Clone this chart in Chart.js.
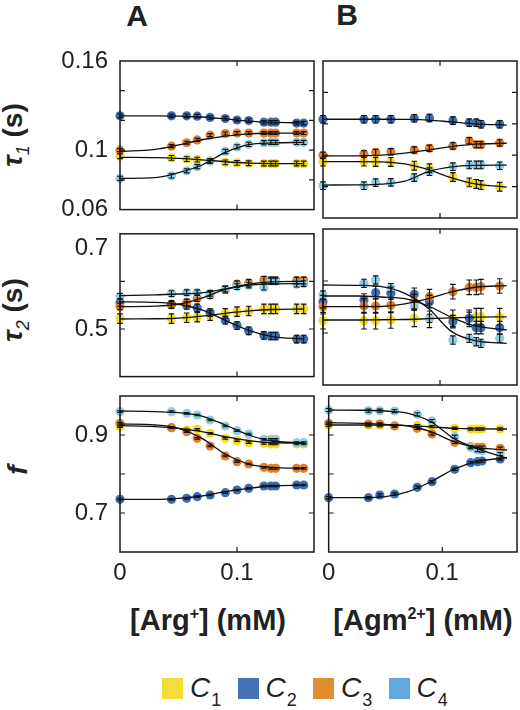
<!DOCTYPE html>
<html>
<head>
<meta charset="utf-8">
<script src="https://cdn.jsdelivr.net/npm/chart.js@4.4.0/dist/chart.umd.min.js"></script>
<style>
body { margin: 0; background: #fff; }
#wrap { position: relative; width: 520px; height: 710px; overflow: hidden;
        font-family: "Liberation Sans", Arial, sans-serif; color: #222; }
canvas { position: absolute; }
.t { position: absolute; white-space: nowrap; font-weight: bold; }
.rot { transform: translate(-50%, -50%) rotate(-90deg); font-size: 28px; line-height: 28px; }
.xt { transform: translateX(-50%); font-size: 29px; line-height: 30px; }
.sw { position: absolute; width: 21px; height: 21px; }
.lt { position: absolute; font-style: italic; font-size: 28px; line-height: 28px; }
.lt sub { font-size: 18px; font-style: normal; vertical-align: -9px; margin-left: 1px; }
</style>
</head>
<body>
<div id="wrap">
  <div class="t" style="left:117px;top:1px;width:40px;text-align:center;font-size:30px;line-height:30px;">A</div>
  <div class="t" style="left:327px;top:0px;width:40px;text-align:center;font-size:30px;line-height:30px;">B</div>
  <div class="t rot" style="left:18px;top:135px;"><i>τ</i><sub style="font-weight:normal;font-style:italic;font-size:18px;">1</sub> (s)</div>
  <div class="t rot" style="left:18px;top:310px;"><i>τ</i><sub style="font-weight:normal;font-style:italic;font-size:18px;">2</sub> (s)</div>
  <div class="t rot" style="left:18px;top:470px;"><i>f</i></div>
  <div class="t xt" style="left:208px;top:599px;">[Arg<sup style="font-size:16px;">+</sup>] (mM)</div>
  <div class="t xt" style="left:423px;top:599px;">[Agm<sup style="font-size:16px;">2+</sup>] (mM)</div>
</div>
<script>
// concentrations (mM)
const argX = [0, 0.044, 0.057, 0.066, 0.077, 0.090, 0.100, 0.110, 0.123, 0.129, 0.133, 0.151, 0.157];
const agmX = [0, 0.035, 0.045, 0.058, 0.078, 0.091, 0.111, 0.125, 0.131, 0.135, 0.151];
const fitX = [0, 0.03, 0.05, 0.07, 0.09, 0.11, 0.13, 0.157];

const seriesSubs = ['1', '2', '3', '4'];
const pointColors = ['#f5dc1e', '#3e6db6', '#e37e2b', '#8ecee3'];
const legendColors = ['#f4dc3a', '#4672b5', '#e08f2e', '#63a8dc'];

// tau1, rows are C1..C4
const tau1Arg = [
  [0.0959, 0.0948, 0.0940, 0.0936, 0.0927, 0.0918, 0.0914, 0.0912, 0.0910, 0.0910, 0.0910, 0.0910, 0.0910],
  [0.1231, 0.1231, 0.1231, 0.1229, 0.1220, 0.1213, 0.1203, 0.1199, 0.1188, 0.1188, 0.1188, 0.1182, 0.1182],
  [0.1000, 0.1027, 0.1050, 0.1069, 0.1101, 0.1112, 0.1115, 0.1115, 0.1115, 0.1115, 0.1115, 0.1115, 0.1115],
  [0.0810, 0.0827, 0.0861, 0.0889, 0.0927, 0.0991, 0.1022, 0.1039, 0.1050, 0.1052, 0.1052, 0.1052, 0.1052]
];
const tau1ArgFit = [
  [0.0952, 0.0950, 0.0945, 0.0935, 0.0922, 0.0913, 0.0910, 0.0910],
  [0.1231, 0.1231, 0.1229, 0.1223, 0.1210, 0.1196, 0.1188, 0.1183],
  [0.0991, 0.1005, 0.1035, 0.1070, 0.1095, 0.1110, 0.1114, 0.1115],
  [0.0810, 0.0815, 0.0848, 0.0900, 0.0985, 0.1037, 0.1049, 0.1052]
];
const tau1ArgErr = [0.0016, 0.0012, 0.0010, 0.0014];

const tau1Agm = [
  [0.0959, 0.0959, 0.0957, 0.0957, 0.0933, 0.0917, 0.0861, 0.0827, 0.0817, 0.0810, 0.0799],
  [0.1229, 0.1229, 0.1229, 0.1229, 0.1235, 0.1237, 0.1220, 0.1207, 0.1207, 0.1197, 0.1197],
  [0.0999, 0.1008, 0.1018, 0.1022, 0.1033, 0.1044, 0.1059, 0.1092, 0.1067, 0.1067, 0.1078],
  [0.0806, 0.0806, 0.0825, 0.0827, 0.0857, 0.0895, 0.0927, 0.0938, 0.0938, 0.0938, 0.0933]
];
const tau1AgmFit = [
  [0.0959, 0.0959, 0.0958, 0.0945, 0.0908, 0.0856, 0.0818, 0.0797],
  [0.1229, 0.1229, 0.1229, 0.1228, 0.1224, 0.1212, 0.1200, 0.1192],
  [0.0995, 0.0996, 0.1000, 0.1013, 0.1033, 0.1055, 0.1070, 0.1076],
  [0.0810, 0.0811, 0.0816, 0.0835, 0.0895, 0.0925, 0.0935, 0.0937]
];
const tau1AgmErr = [0.0028, 0.0024, 0.0020, 0.0024];

// tau2
const tau2Arg = [
  [0.5218, 0.5218, 0.5237, 0.5250, 0.5282, 0.5327, 0.5365, 0.5378, 0.5423, 0.5423, 0.5423, 0.5423, 0.5423],
  [0.5558, 0.5519, 0.5494, 0.5442, 0.5346, 0.5186, 0.5071, 0.4962, 0.4865, 0.4853, 0.4853, 0.4788, 0.4788],
  [0.5474, 0.5506, 0.5558, 0.5648, 0.5712, 0.5827, 0.5942, 0.5968, 0.6032, 0.6019, 0.6019, 0.6019, 0.6019],
  [0.5686, 0.5744, 0.5763, 0.5763, 0.5750, 0.5840, 0.5891, 0.5923, 0.5878, 0.6006, 0.6006, 0.5942, 0.5955]
];
const tau2ArgFit = [
  [0.521, 0.5215, 0.523, 0.527, 0.533, 0.538, 0.541, 0.542],
  [0.557, 0.556, 0.552, 0.540, 0.518, 0.497, 0.484, 0.479],
  [0.547, 0.548, 0.552, 0.565, 0.583, 0.594, 0.599, 0.600],
  [0.570, 0.5715, 0.5735, 0.576, 0.584, 0.592, 0.595, 0.5955]
];
const tau2ArgErr = [0.010, 0.008, 0.007, 0.006];

const tau2Agm = [
  [0.5237, 0.5237, 0.5237, 0.5250, 0.5282, 0.5263, 0.5282, 0.5282, 0.5314, 0.5314, 0.5314],
  [0.5603, 0.5635, 0.5776, 0.5763, 0.5744, 0.5603, 0.5218, 0.5282, 0.5103, 0.5103, 0.5103],
  [0.5506, 0.5519, 0.5519, 0.5532, 0.5603, 0.5699, 0.5795, 0.5878, 0.5878, 0.5891, 0.5904],
  [0.5731, 0.5955, 0.6019, 0.5872, 0.5519, 0.5282, 0.4865, 0.4897, 0.4833, 0.4801, 0.4897]
];
const tau2AgmFit = [
  [0.525, 0.525, 0.5255, 0.526, 0.5275, 0.529, 0.5305, 0.531],
  [0.5712, 0.5712, 0.5692, 0.566, 0.5519, 0.530, 0.5135, 0.5058],
  [0.5506, 0.5506, 0.551, 0.556, 0.566, 0.579, 0.588, 0.591],
  [0.5923, 0.5917, 0.5891, 0.5763, 0.5474, 0.5026, 0.4853, 0.4801]
];
const tau2AgmErr = [0.016, 0.012, 0.014, 0.008];

// f
const fArg = [
  [0.9214, 0.9188, 0.9128, 0.9145, 0.9043, 0.8915, 0.8855, 0.8803, 0.8786, 0.8769, 0.8769, 0.8769, 0.8769],
  [0.7350, 0.7350, 0.7376, 0.7419, 0.7462, 0.7521, 0.7590, 0.7632, 0.7692, 0.7692, 0.7692, 0.7718, 0.7718],
  [0.9299, 0.9188, 0.9085, 0.8915, 0.8718, 0.8462, 0.8316, 0.8256, 0.8171, 0.8145, 0.8145, 0.8145, 0.8145],
  [0.9598, 0.9598, 0.9556, 0.9513, 0.9385, 0.9231, 0.9111, 0.9026, 0.8889, 0.8889, 0.8889, 0.8803, 0.8803]
];
const fArgFit = [
  [0.9239, 0.9214, 0.9171, 0.9085, 0.8957, 0.8855, 0.8803, 0.8786],
  [0.735, 0.735, 0.7376, 0.7436, 0.7547, 0.7632, 0.7692, 0.771],
  [0.9282, 0.9256, 0.9171, 0.8915, 0.8513, 0.8256, 0.8171, 0.8145],
  [0.9615, 0.9598, 0.9573, 0.9487, 0.9256, 0.9, 0.8846, 0.8803]
];
const fArgErr = [0.002, 0.002, 0.002, 0.002];

const fAgm = [
  [0.9256, 0.9256, 0.9256, 0.9239, 0.9239, 0.9214, 0.9171, 0.9154, 0.9154, 0.9154, 0.9154],
  [0.7393, 0.7393, 0.7462, 0.7487, 0.7658, 0.7803, 0.8120, 0.8291, 0.8316, 0.8333, 0.8385],
  [0.9299, 0.9282, 0.9282, 0.9231, 0.9171, 0.9026, 0.8812, 0.8701, 0.8684, 0.8684, 0.8658],
  [0.9641, 0.9624, 0.9624, 0.9615, 0.9530, 0.9359, 0.8957, 0.8684, 0.8615, 0.8598, 0.8513]
];
const fAgmFit = [
  [0.9256, 0.9256, 0.9252, 0.924, 0.921, 0.917, 0.9156, 0.9154],
  [0.7393, 0.7393, 0.7419, 0.7547, 0.7803, 0.812, 0.8316, 0.8419],
  [0.9316, 0.9300, 0.9274, 0.9231, 0.9085, 0.8829, 0.8684, 0.8615],
  [0.9641, 0.9635, 0.9615, 0.9556, 0.934, 0.8915, 0.8658, 0.8402]
];
const fAgmErr = [0.003, 0.003, 0.003, 0.004];

// ticks
const xTickVals = [0, 0.1];
const xTickText = ['0', '0.1'];
const tau1Ticks = [0.06, 0.08, 0.1, 0.12, 0.14, 0.16];
const tau1TickText = ['0.06', '', '0.1', '', '', '0.16'];
const tau2Ticks = [0.4, 0.5, 0.6, 0.7];
const tau2TickText = ['', '0.5', '', '0.7'];
const fTicks = [0.6, 0.7, 0.8, 0.9, 1.0];
const fTickText = ['', '0.7', '', '0.9', ''];

// panel boxes (px)
const colLeft = [120, 323], colW = [194, 194];
const rowTop = [61, 229, 396], rowH = [157, 156, 156];
const FONT = '"Liberation Sans", Arial, sans-serif';

const panels = [
  { r: 0, c: 0, xs: argX, ys: tau1Arg, fit: tau1ArgFit, err: tau1ArgErr, ticks: tau1Ticks, text: tau1TickText },
  { r: 0, c: 1, xs: agmX, ys: tau1Agm, fit: tau1AgmFit, err: tau1AgmErr, ticks: tau1Ticks, text: tau1TickText },
  { r: 1, c: 0, xs: argX, ys: tau2Arg, fit: tau2ArgFit, err: tau2ArgErr, ticks: tau2Ticks, text: tau2TickText },
  { r: 1, c: 1, xs: agmX, ys: tau2Agm, fit: tau2AgmFit, err: tau2AgmErr, ticks: tau2Ticks, text: tau2TickText },
  { r: 2, c: 0, xs: argX, ys: fArg, fit: fArgFit, err: fArgErr, ticks: fTicks, text: fTickText },
  { r: 2, c: 1, xs: agmX, ys: fAgm, fit: fAgmFit, err: fAgmErr, ticks: fTicks, text: fTickText }
];

// box, inward ticks and error bars
const framePlugin = {
  id: 'frame',
  afterDatasetsDraw(chart, args, opts) {
    const ctx = chart.ctx, a = chart.chartArea;
    const xs = chart.scales.x, ys = chart.scales.y;
    ctx.save();
    ctx.strokeStyle = '#111';
    ctx.lineWidth = 1.1;
    chart.data.datasets.forEach(ds => {
      if (ds.err == null) return;
      ds.data.forEach(p => {
        const px = xs.getPixelForValue(p.x);
        const y1 = ys.getPixelForValue(p.y - ds.err);
        const y2 = ys.getPixelForValue(p.y + ds.err);
        ctx.beginPath();
        ctx.moveTo(px, y1); ctx.lineTo(px, y2);
        ctx.moveTo(px - 2.8, y1); ctx.lineTo(px + 2.8, y1);
        ctx.moveTo(px - 2.8, y2); ctx.lineTo(px + 2.8, y2);
        ctx.stroke();
      });
    });
    ctx.strokeStyle = '#1a1a1a';
    ctx.lineWidth = 1.5;
    ctx.strokeRect(a.left, a.top, a.right - a.left, a.bottom - a.top);
    ctx.lineWidth = 1.2;
    opts.yTicks.forEach(v => {
      const py = ys.getPixelForValue(v);
      if (py <= a.top + 1 || py >= a.bottom - 1) return;
      ctx.beginPath();
      ctx.moveTo(a.left, py); ctx.lineTo(a.left + 5, py);
      ctx.moveTo(a.right, py); ctx.lineTo(a.right - 5, py);
      ctx.stroke();
    });
    opts.xTicks.forEach(v => {
      const px = xs.getPixelForValue(v);
      if (px <= a.left + 1 || px >= a.right - 1) return;
      ctx.beginPath();
      ctx.moveTo(px, a.top); ctx.lineTo(px, a.top + 5);
      ctx.moveTo(px, a.bottom); ctx.lineTo(px, a.bottom - 5);
      ctx.stroke();
    });
    ctx.restore();
  }
};

const wrap = document.getElementById('wrap');
const padL = 8, padR = 8, padT = 36, padB = 18;

panels.forEach(p => {
  const yAxisW = p.c === 0 ? 70 : 0;
  const xAxisH = p.r === 2 ? 40 : 0;
  const cv = document.createElement('canvas');
  const w = yAxisW + colW[p.c] + padL + padR;
  const h = padT + rowH[p.r] + xAxisH + padB;
  cv.width = w; cv.height = h;
  cv.style.left = (colLeft[p.c] - yAxisW - padL) + 'px';
  cv.style.top = (rowTop[p.r] - padT) + 'px';
  cv.style.width = w + 'px'; cv.style.height = h + 'px';
  wrap.appendChild(cv);

  const datasets = [];
  p.ys.forEach((vals, s) => {
    datasets.push({
      data: p.fit[s].map((y, i) => ({ x: fitX[i], y })),
      showLine: true, borderColor: '#111', borderWidth: 1.3,
      pointRadius: 0, cubicInterpolationMode: 'monotone', order: 0, clip: false
    });
  });
  [3, 2, 1, 0].forEach(s => {
    datasets.push({
      data: p.xs.map((x, i) => ({ x, y: p.ys[s][i] })),
      err: p.err[s],
      showLine: false, pointRadius: 4.6, pointBorderWidth: 0,
      pointBackgroundColor: pointColors[s], backgroundColor: pointColors[s],
      order: 1, clip: false
    });
  });

  new Chart(cv, {
    type: 'scatter',
    data: { datasets },
    options: {
      responsive: false,
      animation: false,
      layout: { padding: { left: padL, right: padR, top: padT, bottom: padB } },
      plugins: {
        legend: { display: false },
        tooltip: { enabled: false },
        frame: { xTicks: xTickVals, yTicks: p.ticks }
      },
      scales: {
        x: {
          type: 'linear', min: 0, max: 0.1658, display: p.r === 2,
          afterBuildTicks: s => { s.ticks = xTickVals.map(v => ({ value: v })); },
          afterFit: s => { s.height = xAxisH; },
          grid: { display: false, drawTicks: false },
          border: { display: false },
          ticks: {
            padding: 7, color: '#222', maxRotation: 0, autoSkip: false,
            font: { size: 24, family: FONT },
            callback: (v, i) => xTickText[i]
          }
        },
        y: {
          type: 'linear', min: p.ticks[0], max: p.ticks[p.ticks.length - 1], display: p.c === 0,
          afterBuildTicks: s => { s.ticks = p.ticks.map(v => ({ value: v })); },
          afterFit: s => { s.width = yAxisW; },
          grid: { display: false, drawTicks: false },
          border: { display: false },
          ticks: {
            padding: 12, color: '#222', autoSkip: false,
            font: { size: 24, family: FONT, lineHeight: 1.2 },
            // top label of the middle row sits a little lower, clear of the 0.06 above
            callback: (v, i) => (p.r === 1 && i === p.ticks.length - 1) ? ['', p.text[i]] : p.text[i]
          }
        }
      }
    },
    plugins: [framePlugin]
  });
});

// legend
const legLeft = [162, 237.5, 313, 388.5];
seriesSubs.forEach((sub, s) => {
  const sw = document.createElement('div');
  sw.className = 'sw';
  sw.style.left = legLeft[s] + 'px';
  sw.style.top = '678px';
  sw.style.background = legendColors[s];
  wrap.appendChild(sw);
  const lt = document.createElement('div');
  lt.className = 'lt';
  lt.style.left = (legLeft[s] + 28) + 'px';
  lt.style.top = '674px';
  lt.innerHTML = 'C<sub>' + sub + '</sub>';
  wrap.appendChild(lt);
});
</script>
</body>
</html>
